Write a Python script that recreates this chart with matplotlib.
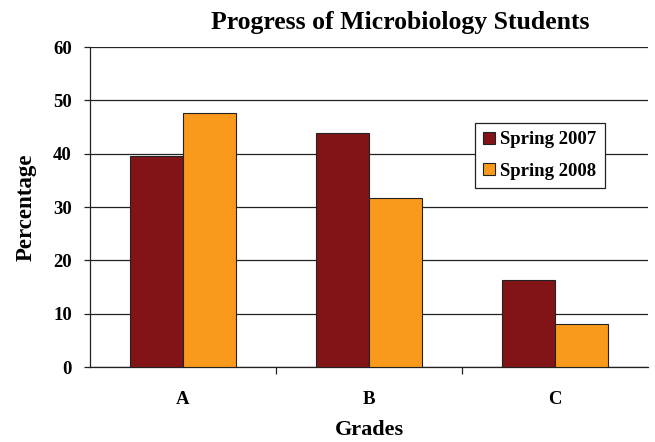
import numpy as np
import matplotlib
matplotlib.use('Agg')
import matplotlib.pyplot as plt

# Data
grades = ['A', 'B', 'C']
spring_2007 = [39.5, 43.9, 16.3]
spring_2008 = [47.7, 31.7, 8.0]

plt.rcParams['font.family'] = ['Liberation Serif', 'DejaVu Serif']

fig = plt.figure(figsize=(6.55, 4.42), dpi=100)
ax = fig.add_axes([90 / 655, 1 - 367 / 442, 558 / 655, 320 / 442])

x = np.arange(len(grades))
w = 0.2875
ax.bar(x - w / 2, spring_2007, w, color='#821418', edgecolor='#222222', linewidth=0.8,
       label='Spring 2007', zorder=3)
ax.bar(x + w / 2, spring_2008, w, color='#F99A1C', edgecolor='#222222', linewidth=0.8,
       label='Spring 2008', zorder=3)

ax.set_xlim(-0.5, 2.5)
ax.set_ylim(0, 60)
ax.set_yticks(range(0, 61, 10))
ax.yaxis.grid(True, color='#222222', linewidth=0.9, zorder=0)
ax.set_axisbelow(True)

# category labels in the middle, tick marks at the boundaries
ax.set_xticks(x)
ax.set_xticklabels(grades, fontsize=13.5, fontweight='bold')
ax.tick_params(axis='x', length=0, pad=17)
ax.set_xticks([0.5, 1.5], minor=True)
ax.tick_params(axis='x', which='minor', length=5, width=0.9, color='#222222')
ax.tick_params(axis='y', length=4, width=0.9, color='#222222', labelsize=13.5, pad=9)
for lbl in ax.get_yticklabels():
    lbl.set_fontweight('bold')

for s in ['top', 'right']:
    ax.spines[s].set_visible(False)
for s in ['left', 'bottom']:
    ax.spines[s].set_color('#222222')
    ax.spines[s].set_linewidth(0.9)

ax.set_ylabel('Percentage', fontsize=16.5, fontweight='bold', labelpad=12)
ax.set_xlabel('Grades', fontsize=16, fontweight='bold', labelpad=9)
fig.text(400 / 655, 1 - 22 / 442, 'Progress of Microbiology Students', ha='center', va='center',
         fontsize=18.5, fontweight='bold')

leg = ax.legend(loc='upper left', bbox_to_anchor=(385 / 558, 1 - 76 / 320),
                prop={'weight': 'bold', 'size': 13.5}, fancybox=False, framealpha=1,
                edgecolor='#222222', handlelength=0.6, handleheight=0.6, handletextpad=0.3,
                borderpad=0.45, labelspacing=0.75, borderaxespad=0)
leg.get_frame().set_linewidth(0.9)

fig.savefig('out.png', dpi=100)
